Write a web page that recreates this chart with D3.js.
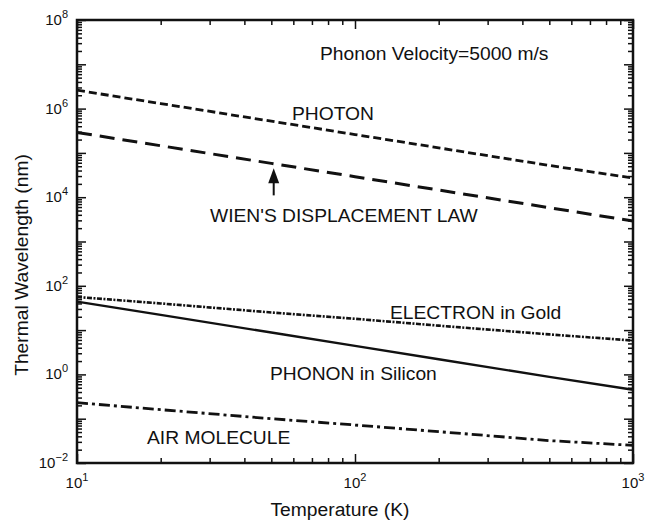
<!DOCTYPE html>
<html>
<head>
<meta charset="utf-8">
<script src="https://cdn.jsdelivr.net/npm/d3@7/dist/d3.min.js"></script>
<style>
  html, body { margin: 0; padding: 0; background: #fff; }
  svg { display: block; }
  text { font-family: "Liberation Sans", Arial, Helvetica, sans-serif; fill: #111; }
</style>
</head>
<body>
<svg id="chart" width="650" height="522"></svg>
<script>
// Temperatures (K) at which each curve is sampled
const temperature = [10, 20, 50, 100, 200, 500, 1000];

// Thermal wavelength (nm) of each carrier
const photon   = [2.6e6, 1.3e6, 5.2e5, 2.6e5, 1.3e5, 5.2e4, 2.7e4];
const wien     = [2.9e5, 1.45e5, 5.8e4, 2.9e4, 1.45e4, 5.8e3, 2.9e3];
const electron = [56, 40, 25, 18, 12.6, 8.0, 5.8];
const phonon   = [44, 22, 8.8, 4.4, 2.2, 0.88, 0.45];
const air      = [0.23, 0.16, 0.10, 0.072, 0.051, 0.032, 0.025];

// Axis tick labels (powers of ten)
const xTickExponents = [1, 2, 3];
const yTickExponents = [-2, 0, 2, 4, 6, 8];

// Arrow marking the Wien curve: temperature and wavelength span
const arrowT = 51;
const arrowFrom = 1.1e4;
const arrowTo = 4.5e4;

const svg = d3.select("#chart");
const plot = { left: 77, right: 633, top: 20, bottom: 463 };

const x = d3.scaleLog().domain([10, 1000]).range([plot.left, plot.right]);
const y = d3.scaleLog().domain([1e-2, 1e8]).range([plot.bottom, plot.top]);

// Minor and major tick positions on each log axis
function logTicks(lo, hi) {
  const major = [], minor = [];
  for (let e = lo; e <= hi; e++) {
    major.push(Math.pow(10, e));
    if (e < hi) for (let m = 2; m <= 9; m++) minor.push(m * Math.pow(10, e));
  }
  return { major, minor };
}
const xt = logTicks(1, 3);
const yt = logTicks(-2, 8);

const majorLen = 9, minorLen = 5;

function drawAxis(axisFn, scale, ticks, size, transform) {
  const g = svg.append("g").attr("transform", transform);
  g.call(axisFn(scale).tickValues(ticks).tickSize(size).tickFormat(""));
  g.select(".domain").remove();
  g.selectAll(".tick line").attr("stroke", "#111").attr("stroke-width", 1.5);
}

// Inward ticks on all four sides
drawAxis(d3.axisBottom, x, xt.minor, -minorLen, `translate(0,${plot.bottom})`);
drawAxis(d3.axisBottom, x, xt.major, -majorLen, `translate(0,${plot.bottom})`);
drawAxis(d3.axisTop, x, xt.minor, -minorLen, `translate(0,${plot.top})`);
drawAxis(d3.axisTop, x, xt.major, -majorLen, `translate(0,${plot.top})`);
drawAxis(d3.axisLeft, y, yt.minor, -minorLen, `translate(${plot.left},0)`);
drawAxis(d3.axisLeft, y, yt.major, -majorLen, `translate(${plot.left},0)`);
drawAxis(d3.axisRight, y, yt.minor, -minorLen, `translate(${plot.right},0)`);
drawAxis(d3.axisRight, y, yt.major, -majorLen, `translate(${plot.right},0)`);

// Frame
svg.append("rect")
  .attr("x", plot.left).attr("y", plot.top)
  .attr("width", plot.right - plot.left).attr("height", plot.bottom - plot.top)
  .attr("fill", "none").attr("stroke", "#111").attr("stroke-width", 2.5);

// Power-of-ten tick labels
function powerLabel(sel, exp) {
  sel.append("tspan").attr("font-size", 15).text("10");
  sel.append("tspan").attr("font-size", 11).attr("dy", -7)
    .text(exp < 0 ? "\u2212" + Math.abs(exp) : String(exp));
}
xTickExponents.forEach(e => {
  const t = svg.append("text")
    .attr("x", x(Math.pow(10, e))).attr("y", 488)
    .attr("text-anchor", "middle");
  powerLabel(t, e);
});
yTickExponents.forEach(e => {
  const t = svg.append("text")
    .attr("x", plot.left - 9).attr("y", y(Math.pow(10, e)) + 5)
    .attr("text-anchor", "end");
  powerLabel(t, e);
});

// Text is drawn slightly wide, like the typeface of the figure
const stretch = 1.07;

// Axis titles
svg.append("text")
  .attr("transform", `translate(340,516) scale(${stretch},1)`)
  .attr("text-anchor", "middle").attr("font-size", 18)
  .text("Temperature (K)");
svg.append("text")
  .attr("transform", `translate(28,265) rotate(-90) scale(${stretch},1)`)
  .attr("text-anchor", "middle").attr("font-size", 18)
  .text("Thermal Wavelength (nm)");

// Curves
const series = [
  { values: photon,   width: 2.8, dash: "8,4" },
  { values: wien,     width: 3,   dash: "15,8" },
  { values: electron, width: 2.6, dash: "5,1.5,2,1.5" },
  { values: phonon,   width: 2.4, dash: null },
  { values: air,      width: 2.8, dash: "11,4,3,4" }
];
const line = d3.line().x(d => x(d[0])).y(d => y(d[1]));
const curves = svg.append("g");
series.forEach(s => {
  curves.append("path")
    .datum(temperature.map((t, i) => [t, s.values[i]]))
    .attr("d", line)
    .attr("fill", "none")
    .attr("stroke", "#111")
    .attr("stroke-width", s.width)
    .attr("stroke-dasharray", s.dash);
});

// Arrow pointing to the Wien curve
const ax = x(arrowT), ay0 = y(arrowFrom), ay1 = y(arrowTo);
svg.append("line")
  .attr("x1", ax).attr("x2", ax).attr("y1", ay0).attr("y2", ay1 + 10)
  .attr("stroke", "#111").attr("stroke-width", 2);
svg.append("path")
  .attr("d", `M${ax},${ay1} L${ax - 5.5},${ay1 + 15} L${ax + 5.5},${ay1 + 15} Z`)
  .attr("fill", "#111");

// Curve labels and note
const notes = [
  { text: "Phonon Velocity=5000 m/s", x: 320, y: 60 },
  { text: "PHOTON", x: 292, y: 120 },
  { text: "WIEN'S DISPLACEMENT LAW", x: 210, y: 222 },
  { text: "ELECTRON in Gold", x: 390, y: 319 },
  { text: "PHONON in Silicon", x: 270, y: 380 },
  { text: "AIR MOLECULE", x: 147, y: 444 }
];
svg.selectAll("text.note").data(notes).enter().append("text")
  .attr("class", "note")
  .attr("transform", d => `translate(${d.x},${d.y}) scale(${stretch},1)`)
  .attr("font-size", 18)
  .text(d => d.text);
</script>
</body>
</html>
